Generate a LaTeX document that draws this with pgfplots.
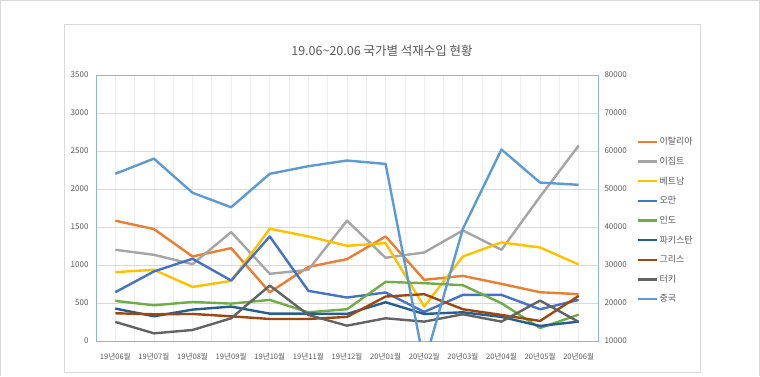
\documentclass[border=0pt]{standalone}
\usepackage{pgfplots}
\pgfplotsset{compat=1.18}
\usepackage{pgfplotstable}
\usepackage{fontspec}
\setmainfont{Noto Sans CJK KR}

\definecolor{txt}{HTML}{595959}
\definecolor{frameblue}{HTML}{8DB4E2}
\definecolor{gridy}{HTML}{D9D9D9}
\definecolor{gridx}{HTML}{EFEFEF}
\definecolor{boxgray}{HTML}{D9D9D9}
\definecolor{cIta}{HTML}{ED7D31}
\definecolor{cEgy}{HTML}{A5A5A5}
\definecolor{cVie}{HTML}{FFC000}
\definecolor{cOma}{HTML}{4472C4}
\definecolor{cInd}{HTML}{70AD47}
\definecolor{cPak}{HTML}{255E91}
\definecolor{cGre}{HTML}{9E480E}
\definecolor{cTur}{HTML}{636363}
\definecolor{cChn}{HTML}{5B9BD5}

\pgfplotstableread{
x ita egy vie oma ind pak gre tur chn
0 1583 1200 906 642 528 427 365 251 54000
1 1473 1134 937 915 470 325 352 101 58000
2 1112 1011 712 1082 514 413 356 145 49000
3 1222 1433 791 796 492 453 325 299 45200
4 642 884 1477 1376 541 360 290 730 54000
5 975 937 1376 660 378 360 290 343 56000
6 1077 1583 1253 572 418 356 317 202 57500
7 1376 1095 1288 638 778 510 585 299 56600
8 805 1165 453 383 761 356 616 255 4000
9 857 1455 1112 607 734 378 418 352 39500
10 752 1200 1297 607 497 317 343 255 60400
11 642 1900 1231 418 171 198 264 532 51700
12 616 2572 1007 541 347 255 594 251 51100
}\data

\pgfplotsset{
  common/.style={
    at={(96pt,35pt)}, anchor=south west,
    width=502pt, height=266pt, scale only axis,
    xmin=-0.5, xmax=12.5,
    major tick length=0pt, minor tick length=0pt,
    tick style={draw=none},
    axis line style={draw=frameblue, line width=1pt},
    scaled y ticks=false,
    /pgf/number format/assume math mode=true,
    /pgf/number format/1000 sep={},
    yticklabel style={font=\fontsize{8}{9}\selectfont, text=txt},
  },
  ser/.style={line width=2.4pt, line join=round, mark=none},
}

\begin{document}
\begin{tikzpicture}[x=1pt,y=1pt]
\useasboundingbox (0,0) rectangle (760,376);
\draw[boxgray, line width=0.8pt] (0.5,0) -- (0.5,375.2) -- (759.5,375.2) -- (759.5,0);
\draw[boxgray, line width=0.8pt] (64,4) rectangle (700,352);
\node[font=\fontsize{12.5}{14}\selectfont, text=txt] at (382,325) {19.06\textasciitilde 20.06 국가별 석재수입 현황};

\begin{axis}[common,
  ymin=0, ymax=3500, ytick={0,500,...,3500},
  xtick={0,...,12},
  xticklabels={19년06월,19년07월,19년08월,19년09월,19년10월,19년11월,19년12월,20년01월,20년02월,20년03월,20년04월,20년05월,20년06월},
  xticklabel style={font=\fontsize{7.6}{8.5}\selectfont, text=txt, yshift=-9pt},
  minor xtick={-0.5,0,...,12.5},
  xminorgrids, ymajorgrids,
  minor grid style={draw=gridx, line width=0.8pt},
  major grid style={draw=gridy, line width=0.8pt},
  yticklabel style={xshift=-4pt},
]
\addplot[ser, cIta] table[x=x, y=ita] {\data};
\addplot[ser, cEgy] table[x=x, y=egy] {\data};
\addplot[ser, cVie] table[x=x, y=vie] {\data};
\addplot[ser, cOma] table[x=x, y=oma] {\data};
\addplot[ser, cInd] table[x=x, y=ind] {\data};
\addplot[ser, cPak] table[x=x, y=pak] {\data};
\addplot[ser, cGre] table[x=x, y=gre] {\data};
\addplot[ser, cTur] table[x=x, y=tur] {\data};
\end{axis}

\begin{axis}[common,
  ymin=10000, ymax=80000, ytick={10000,20000,...,80000},
  axis x line=none, axis y line*=right,
  yticklabel style={xshift=3pt},
  legend style={at={(1.0777,0.77)}, anchor=north west, draw=none, fill=none,
    font=\fontsize{9}{10}\selectfont, text=txt, row sep=8.7pt, inner sep=0pt,
    nodes={inner sep=1pt}},
  legend cell align=left,
  legend image code/.code={\draw[#1] (0pt,0pt) -- (19pt,0pt);},
]
\addlegendimage{ser, cIta}\addlegendentry{이탈리아}
\addlegendimage{ser, cEgy}\addlegendentry{이집트}
\addlegendimage{ser, cVie}\addlegendentry{베트남}
\addlegendimage{ser, cOma}\addlegendentry{오만}
\addlegendimage{ser, cInd}\addlegendentry{인도}
\addlegendimage{ser, cPak}\addlegendentry{파키스탄}
\addlegendimage{ser, cGre}\addlegendentry{그리스}
\addlegendimage{ser, cTur}\addlegendentry{터키}
\addplot[ser, cChn] table[x=x, y=chn] {\data};
\addlegendentry{중국}
\end{axis}
\end{tikzpicture}
\end{document}
